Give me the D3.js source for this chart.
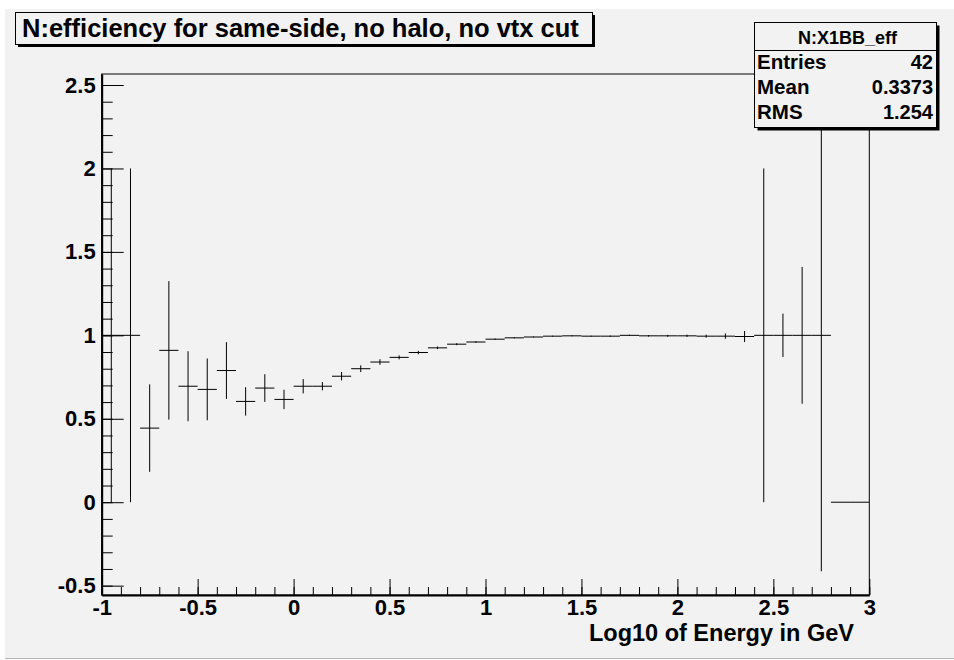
<!DOCTYPE html>
<html>
<head>
<meta charset="utf-8">
<script src="https://cdn.jsdelivr.net/npm/d3@7"></script>
<style>
  body { margin: 0; background: #fff; }
  text { font-family: "Liberation Sans", Arial, sans-serif; font-weight: bold; }
</style>
</head>
<body>
<div></div>
<script>
const width = 954;
const height = 660;

// histogram bins (low edge), width 0.1
const binLow = [-1.0,-0.9,-0.8,-0.7,-0.6,-0.5,-0.4,-0.3,-0.2,-0.1,
                 0.0, 0.1, 0.2, 0.3, 0.4, 0.5, 0.6, 0.7, 0.8, 0.9,
                 1.0, 1.1, 1.2, 1.3, 1.4, 1.5, 1.6, 1.7, 1.8, 1.9,
                 2.0, 2.1, 2.2, 2.3, 2.4, 2.5, 2.6, 2.7, 2.8, 2.9];
const binWidth = 0.1;
const values = [1, 1, 0.444, 0.91, 0.695, 0.676, 0.789, 0.604, 0.684, 0.616,
                0.695, 0.695, 0.755, 0.80, 0.84, 0.868, 0.897, 0.925, 0.947, 0.96,
                0.977, 0.985, 0.99, 0.995, 0.997, 0.995, 0.995, 1.0, 0.997, 0.997,
                0.997, 0.995, 0.995, 0.993, 1, 1, 1, 1, 0, 0];
const errors = [1, 1, 0.262, 0.415, 0.21, 0.185, 0.17, 0.085, 0.083, 0.058,
                0.043, 0.025, 0.025, 0.02, 0.017, 0.012, 0.01, 0.008, 0.006, 0.005,
                0.004, 0.003, 0.003, 0.003, 0.003, 0.003, 0.004, 0.004, 0.005, 0.006,
                0.007, 0.009, 0.016, 0.033, 1, 0.13, 0.41, 1.414, 0, 0];

const xMajor = [-1, -0.5, 0, 0.5, 1, 1.5, 2, 2.5, 3];
const yMajor = [-0.5, 0, 0.5, 1, 1.5, 2, 2.5];
const statsRows = [["Entries", "42"], ["Mean", "0.3373"], ["RMS", "1.254"]];
const title = "N:efficiency for same-side, no halo, no vtx cut";
const statsTitle = "N:X1BB_eff";
const xTitle = "Log10 of Energy in GeV";

const frame = {left: 101.7, right: 869.3, top: 74, bottom: 595};

const svg = d3.select('div').append('svg').attr('width', width).attr('height', height);

// canvas
svg.append('rect').attr('x', 5).attr('y', 9).attr('width', width - 5).attr('height', 649).attr('fill', '#f2f2f2');
svg.append('line').attr('x1', 5).attr('x2', width).attr('y1', 658.5).attr('y2', 658.5).attr('stroke', '#b4b4b4');

const x = d3.scaleLinear().domain([-1, 3]).range([frame.left, frame.right]);
const y = d3.scaleLinear().domain([-0.556, 2.566]).range([frame.bottom, frame.top]);

svg.append('clipPath').attr('id', 'clip').append('rect')
    .attr('x', frame.left).attr('y', frame.top)
    .attr('width', frame.right - frame.left).attr('height', frame.bottom - frame.top);

// frame
svg.append('rect').attr('x', frame.left).attr('y', frame.top)
    .attr('width', frame.right - frame.left).attr('height', frame.bottom - frame.top)
    .attr('fill', 'none').attr('stroke', '#000').attr('stroke-width', 1);

// histogram with error bars
const bins = binLow.map((lo, i) => ({lo: lo, hi: lo + binWidth, v: values[i], e: errors[i]}));
const hg = svg.append('g').attr('clip-path', 'url(#clip)').attr('stroke', '#000').attr('stroke-width', 1);
hg.selectAll('line.h').data(bins).enter().append('line').attr('class', 'h')
    .attr('x1', d => x(d.lo)).attr('x2', d => x(d.hi))
    .attr('y1', d => y(d.v)).attr('y2', d => y(d.v));
hg.selectAll('line.v').data(bins.filter(d => d.e > 0)).enter().append('line').attr('class', 'v')
    .attr('x1', d => x(d.lo + binWidth / 2)).attr('x2', d => x(d.lo + binWidth / 2))
    .attr('y1', d => y(d.v - d.e)).attr('y2', d => y(d.v + d.e));

// axes
const xMinor = d3.range(-10, 31).map(d => d / 10);
const yMinor = d3.range(-5, 26).map(d => d / 10);
const fmt = d => String(d);

svg.append('g').attr('transform', `translate(0,${frame.bottom})`)
    .call(d3.axisBottom(x).tickValues(xMinor).tickSizeInner(-8).tickSizeOuter(0).tickFormat(''))
    .call(g => g.select('.domain').remove());
svg.append('g').attr('transform', `translate(0,${frame.bottom})`)
    .call(d3.axisBottom(x).tickValues(xMajor).tickSizeInner(-16).tickSizeOuter(0).tickPadding(4).tickFormat(fmt))
    .call(g => g.select('.domain').attr('stroke-width', 2))
    .call(g => g.selectAll('text').attr('font-size', 22).attr('fill', '#000').attr('font-family', null));

svg.append('g').attr('transform', `translate(${frame.left},0)`)
    .call(d3.axisLeft(y).tickValues(yMinor).tickSizeInner(-11).tickSizeOuter(0).tickFormat(''))
    .call(g => g.select('.domain').remove());
svg.append('g').attr('transform', `translate(${frame.left},0)`)
    .call(d3.axisLeft(y).tickValues(yMajor).tickSizeInner(-22).tickSizeOuter(0).tickPadding(6).tickFormat(fmt))
    .call(g => g.select('.domain').attr('stroke-width', 2))
    .call(g => g.selectAll('text').attr('font-size', 22).attr('fill', '#000').attr('font-family', null));

svg.append('text').attr('x', 854).attr('y', 641).attr('text-anchor', 'end')
    .attr('font-size', 23.5).text(xTitle);

// title box
svg.append('rect').attr('x', 18).attr('y', 15).attr('width', 577).attr('height', 32).attr('fill', '#000');
svg.append('rect').attr('x', 15.5).attr('y', 12.5).attr('width', 577).attr('height', 32)
    .attr('fill', '#f2f2f2').attr('stroke', '#000');
svg.append('text').attr('x', 22).attr('y', 37).attr('font-size', 25.5).text(title);

// stats box
const sb = {x: 754.5, y: 22.5, w: 182, h: 105};
svg.append('rect').attr('x', sb.x + 3).attr('y', sb.y + 3).attr('width', sb.w).attr('height', sb.h).attr('fill', '#000');
svg.append('rect').attr('x', sb.x).attr('y', sb.y).attr('width', sb.w).attr('height', sb.h)
    .attr('fill', '#f2f2f2').attr('stroke', '#000');
svg.append('line').attr('x1', sb.x).attr('x2', sb.x + sb.w).attr('y1', 50.5).attr('y2', 50.5).attr('stroke', '#000');
svg.append('text').attr('x', sb.x + sb.w / 2 + 2).attr('y', 44).attr('text-anchor', 'middle')
    .attr('font-size', 18).text(statsTitle);
statsRows.forEach((r, i) => {
    svg.append('text').attr('x', 757).attr('y', 69 + i * 25).attr('font-size', 20.5).text(r[0]);
    svg.append('text').attr('x', 933).attr('y', 69 + i * 25).attr('text-anchor', 'end').attr('font-size', 20).text(r[1]);
});
</script>
</body>
</html>
